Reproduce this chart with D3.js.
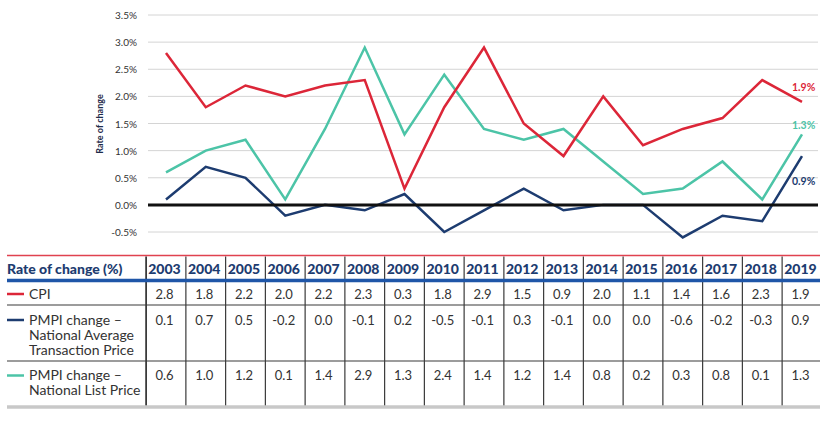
<!DOCTYPE html>
<html><head><meta charset="utf-8">
<script src="https://cdn.jsdelivr.net/npm/d3@7"></script>
<style>body{margin:0;background:#fff}svg{display:block}</style>
</head><body><svg id="c" width="835" height="421"></svg>
<script>
const years = ["2003","2004","2005","2006","2007","2008","2009","2010","2011","2012","2013","2014","2015","2016","2017","2018","2019"];
const cpi = [2.8,1.8,2.2,2.0,2.2,2.3,0.3,1.8,2.9,1.5,0.9,2.0,1.1,1.4,1.6,2.3,1.9];
const pmpiAvg = [0.1,0.7,0.5,-0.2,0.0,-0.1,0.2,-0.5,-0.1,0.3,-0.1,0.0,0.0,-0.6,-0.2,-0.3,0.9];
const pmpiList = [0.6,1.0,1.2,0.1,1.4,2.9,1.3,2.4,1.4,1.2,1.4,0.8,0.2,0.3,0.8,0.1,1.3];
const yTicks = [-0.5,0,0.5,1.0,1.5,2.0,2.5,3.0,3.5];
const seriesNames = [["CPI"],["PMPI change –","National Average","Transaction Price"],["PMPI change –","National List Price"]];

const RED="#dc2638", NAVY="#1d3c70", TEAL="#4cc4a7";
const svg = d3.select("#c");
const font = "Lato, 'Open Sans', sans-serif";
const fmt = d => d.toFixed(1);

const x = d3.scalePoint().domain(years).range([166, 802]);
const y = d3.scaleLinear().domain([-0.5,3.5]).range([232,15]);

// gridlines
svg.append("g").selectAll("line").data(yTicks).join("line")
  .attr("x1",148).attr("x2",818).attr("y1",d=>y(d)).attr("y2",d=>y(d))
  .attr("stroke","#d4d4d4").attr("stroke-width",1);

// y axis labels
const yAxis = d3.axisLeft(y).tickValues(yTicks).tickSize(0).tickPadding(0)
  .tickFormat(d=>fmt(d)+"%");
const ga = svg.append("g").attr("transform","translate(137,0)").call(yAxis);
ga.select(".domain").remove();
ga.selectAll("text").attr("font-family",font).attr("font-size",10).attr("fill","#333").attr("dy","0.35em");

svg.append("text").attr("transform","translate(103,124) rotate(-90)")
  .attr("text-anchor","middle").attr("font-family",font).attr("font-size",9).attr("font-weight","bold")
  .attr("fill","#1d2a4a").text("Rate of change");

const line = d3.line().x((d,i)=>x(years[i])).y(d=>y(d));
[[pmpiList,TEAL],[cpi,RED],[pmpiAvg,NAVY]].forEach(([data,col])=>{
  svg.append("path").attr("d",line(data)).attr("fill","none").attr("stroke",col)
    .attr("stroke-width",2.5).attr("stroke-linejoin","miter");
});
// zero line
svg.append("line").attr("x1",148).attr("x2",818).attr("y1",y(0)).attr("y2",y(0))
  .attr("stroke","#111").attr("stroke-width",3);

// end labels
const last = years.length-1;
[[cpi,RED,-11],[pmpiList,TEAL,-5.5],[pmpiAvg,NAVY,29]].forEach(([data,col,dy])=>{
  svg.append("text").attr("x",x(years[last])-10).attr("y",y(data[last])+dy).attr("font-family",font)
    .attr("font-size",10.5).attr("font-weight","bold").attr("fill",col)
    .text(fmt(data[last])+"%");
});

// table
const colW = x.step();
const tL = 7, tR = 820;
const rowY = {top:255.5, head:280.5, r1:305, r2:361, bottom:407};
svg.append("line").attr("x1",tL).attr("x2",tR).attr("y1",rowY.top).attr("y2",rowY.top).attr("stroke","#e0424f").attr("stroke-width",1.5);
const vx = d3.range(years.length).map(i=>x(years[i])-colW/2);
svg.append("g").selectAll("line").data(vx).join("line")
  .attr("x1",d=>d).attr("x2",d=>d).attr("y1",rowY.top+1).attr("y2",rowY.bottom)
  .attr("stroke","#3a3a3a").attr("stroke-width",(d,i)=>i==0?1.8:1.2);
[rowY.r1,rowY.r2].forEach(yy=>svg.append("line").attr("x1",tL).attr("x2",tR).attr("y1",yy).attr("y2",yy).attr("stroke","#3a3a3a").attr("stroke-width",1.2));
svg.append("line").attr("x1",tL).attr("x2",tR).attr("y1",rowY.head).attr("y2",rowY.head).attr("stroke","#1f56a8").attr("stroke-width",3.5);
svg.append("line").attr("x1",tL).attr("x2",tR).attr("y1",rowY.bottom).attr("y2",rowY.bottom).attr("stroke","#c8c8c8").attr("stroke-width",3.5);

svg.append("text").attr("x",tL).attr("y",274).attr("font-family",font).attr("font-size",14)
  .attr("font-weight","900").attr("fill","#1d3c70").text("Rate of change (%)");
svg.append("g").selectAll("text").data(years).join("text")
  .attr("x",d=>x(d)-1.5).attr("y",274).attr("text-anchor","middle").attr("font-family",font)
  .attr("font-size",14).attr("font-weight","900").attr("fill","#1d3c70").text(d=>d);

const rows = [[cpi,RED,298.5],[pmpiAvg,NAVY,324.5],[pmpiList,TEAL,380]];
rows.forEach(([data,col,by],k)=>{
  svg.append("line").attr("x1",tL).attr("x2",24).attr("y1",by-4.5).attr("y2",by-4.5).attr("stroke",col).attr("stroke-width",2.5);
  const t = svg.append("text").attr("font-family",font).attr("font-size",14).attr("fill","#333");
  seriesNames[k].forEach((s,j)=>t.append("tspan").attr("x",29).attr("y",by+j*15.3).text(s));
  svg.append("g").selectAll("text").data(data).join("text")
    .attr("x",(d,i)=>x(years[i])-1.5).attr("y",by).attr("text-anchor","middle")
    .attr("font-family",font).attr("font-size",13).attr("fill","#333")
    .text(d=>fmt(d));
});
</script></body></html>
